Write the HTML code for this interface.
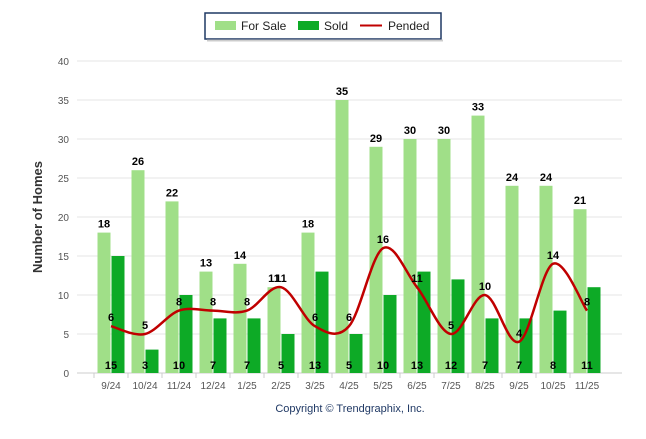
<!DOCTYPE html>
<html><head><style>
body{margin:0;background:#fff;width:646px;height:434px;overflow:hidden;font-family:"Liberation Sans",Arial,sans-serif}
</style></head><body>
<svg width="646" height="434" xmlns="http://www.w3.org/2000/svg" font-family="Liberation Sans, Arial, sans-serif">
<rect x="205" y="13" width="236" height="26" fill="#fff" stroke="#1f3864" stroke-width="1.5"/>
<rect x="207" y="39.5" width="236" height="2" fill="#ccc"/>
<rect x="215" y="21" width="21" height="9" fill="#a0df88"/><text x="241" y="30" font-size="12" fill="#222">For Sale</text>
<rect x="298" y="21" width="21" height="9" fill="#0daa26"/><text x="324" y="30" font-size="12" fill="#222">Sold</text>
<rect x="360" y="24.5" width="22" height="2" fill="#c00000"/><text x="388" y="30" font-size="12" fill="#222">Pended</text>
<g id="grid" stroke="#e6e6e6" stroke-width="1"></g>
<g id="ylab" font-size="10" fill="#555" text-anchor="end"></g>
<text transform="translate(42,217) rotate(-90)" font-size="13" font-weight="bold" fill="#333" text-anchor="middle">Number of Homes</text>
<g id="bars"></g>
<g id="xlab" font-size="10" fill="#555" text-anchor="middle"></g>
<path id="line" fill="none" stroke="#c00000" stroke-width="2.5"/>
<g id="lbl" font-size="11" font-weight="bold" fill="#000" text-anchor="middle"></g>
<text x="350" y="412" font-size="11" fill="#1f3864" text-anchor="middle">Copyright © Trendgraphix, Inc.</text>
</svg>
<script>
var fs=[18,26,22,13,14,11,18,35,29,30,30,33,24,24,21],sd=[15,3,10,7,7,5,13,5,10,13,12,7,7,8,11],pd=[6,5,8,8,8,11,6,6,16,11,5,10,4,14,8];
var xl=["9/24","10/24","11/24","12/24","1/25","2/25","3/25","4/25","5/25","6/25","7/25","8/25","9/25","10/25","11/25"];
var ns="http://www.w3.org/2000/svg";function el(p,t,a,txt){var e=document.createElementNS(ns,t);for(var k in a)e.setAttribute(k,a[k]);if(txt!=null)e.textContent=txt;document.getElementById(p).appendChild(e);}
function Y(v){return 373-v*7.8;}
for(var i=0;i<=8;i++){var y=Y(i*5);el("grid","line",{x1:77,x2:622,y1:y,y2:y});el("ylab","text",{x:69,y:y+4},i*5);}
el("grid","line",{x1:77,x2:622,y1:373,y2:373,stroke:"#ccc"});
var pts=[];
for(var i=0;i<15;i++){var c=111+34*i;
el("bars","rect",{x:c-13.5,y:Y(fs[i]),width:13,height:fs[i]*7.8,fill:"#a0df88"});
el("bars","rect",{x:c+0.5,y:Y(sd[i]),width:13,height:sd[i]*7.8,fill:"#0daa26"});
el("xlab","text",{x:c,y:389},xl[i]);
el("grid","line",{x1:c-17,x2:c-17,y1:373,y2:378,stroke:"#ccc"});
el("lbl","text",{x:c-7,y:Y(fs[i])-5},fs[i]);
el("lbl","text",{x:c,y:369},sd[i]);
el("lbl","text",{x:c,y:Y(pd[i])-5},pd[i]);
pts.push([c,Y(pd[i])]);}
var d="M"+pts[0];for(var i=0;i<pts.length-1;i++){var p0=pts[i-1]||pts[i],p1=pts[i],p2=pts[i+1],p3=pts[i+2]||p2;
d+=" C"+(p1[0]+(p2[0]-p0[0])/6)+","+(p1[1]+(p2[1]-p0[1])/6)+" "+(p2[0]-(p3[0]-p1[0])/6)+","+(p2[1]-(p3[1]-p1[1])/6)+" "+p2;}
document.getElementById("line").setAttribute("d",d);
</script>
</body></html>
